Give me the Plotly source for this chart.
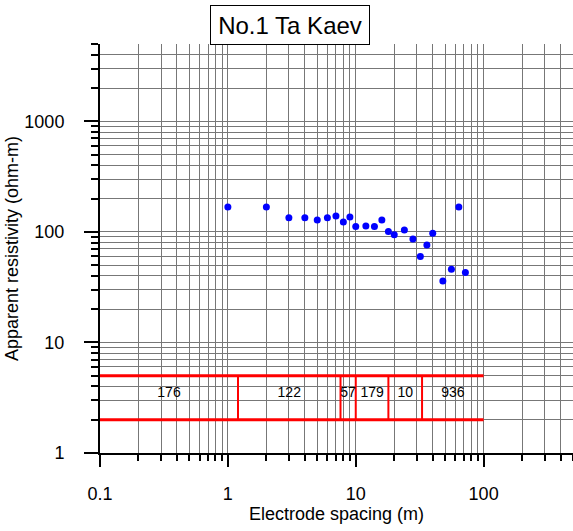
import math
import plotly.graph_objects as go

# ---- data ----
spacing = [1, 2, 3, 4, 5, 6, 7, 8, 9, 10, 12, 14, 16, 18, 20, 24, 28, 32, 36, 40, 48, 56, 64, 72]
app_res = [168, 168, 134, 134, 128, 134, 139, 123, 136, 112, 113, 112, 128, 101, 94, 104, 86, 60, 76, 97, 36, 46, 168, 43]

layer_edges = [0.1, 1.2, 7.6, 10, 18, 33, 100]   # layer boundaries along the spacing axis
layer_res = ["176", "122", "57", "179", "10", "936"]
box_bottom, box_top = 2, 5
label_y = 3.45

x_major = [0.1, 1, 10, 100]
y_major = [1, 10, 100, 1000]
x_minor = [m * 10 ** e for e in range(-1, 3) for m in range(2, 10) if m * 10 ** e <= 500]
y_minor = [m * 10 ** e for e in range(0, 4) for m in range(2, 10) if m * 10 ** e <= 5000]

FONT = "Liberation Sans, Arial, sans-serif"
GRID = "#777777"
RED = "#ff0000"

fig = go.Figure()

# layer model box
for yv in (box_bottom, box_top):
    fig.add_trace(go.Scatter(x=[layer_edges[0], layer_edges[-1]], y=[yv, yv], mode="lines",
                             line=dict(color=RED, width=3), hoverinfo="skip"))
for xe in layer_edges[1:-1]:
    fig.add_trace(go.Scatter(x=[xe, xe], y=[box_bottom, box_top], mode="lines",
                             line=dict(color=RED, width=2), hoverinfo="skip"))
mids = [math.sqrt(a * b) for a, b in zip(layer_edges[:-1], layer_edges[1:])]
fig.add_trace(go.Scatter(x=mids, y=[label_y] * len(mids), mode="text", text=layer_res,
                         textfont=dict(family=FONT, size=14, color="#000000"), hoverinfo="skip"))

# measured points
fig.add_trace(go.Scatter(x=spacing, y=app_res, mode="markers",
                         marker=dict(color="#0000ff", size=7), hoverinfo="skip"))

fig.update_layout(
    width=573, height=531,
    margin=dict(l=100, r=0, t=44, b=78),
    paper_bgcolor="white", plot_bgcolor="white",
    showlegend=False,
    font=dict(family=FONT, size=18, color="#000000"),
)
fig.update_xaxes(
    type="log", range=[-1, math.log10(500)], automargin=False,
    tickmode="array", tickvals=x_major, ticktext=["0.1", "1", "10", "100"],
    ticks="outside", ticklen=12, tickwidth=2, tickcolor="black",
    showline=True, linecolor="black", linewidth=2,
    showgrid=True, gridcolor=GRID, gridwidth=1,
    minor=dict(tickmode="array", tickvals=x_minor, ticks="outside", ticklen=6, tickwidth=1.5,
               tickcolor="black", showgrid=True, gridcolor=GRID, gridwidth=1),
    ticklabelstandoff=11,
    zeroline=False,
    title=dict(text="Electrode spacing (m)", font=dict(size=18), standoff=2),
)
fig.update_yaxes(
    type="log", range=[0, math.log10(5000)], automargin=False,
    tickmode="array", tickvals=y_major, ticktext=["1", "10", "100", "1000"],
    ticks="outside", ticklen=14, tickwidth=2, tickcolor="black",
    showline=True, linecolor="black", linewidth=2,
    showgrid=True, gridcolor=GRID, gridwidth=1,
    minor=dict(tickmode="array", tickvals=y_minor, ticks="outside", ticklen=7, tickwidth=1.5,
               tickcolor="black", showgrid=True, gridcolor=GRID, gridwidth=1),
    ticklabelstandoff=16,
    zeroline=False,
    title=dict(text="Apparent resistivity (ohm-m)", font=dict(size=18), standoff=1),
)

fig.add_annotation(
    text="No.1 Ta Kaev", xref="paper", yref="paper", x=0.4027, y=1.0465,
    xanchor="center", yanchor="middle", showarrow=False,
    font=dict(family=FONT, size=24, color="black"),
    bordercolor="black", borderwidth=1, borderpad=0, bgcolor="white",
    width=158, height=38,
)

fig.write_html("out.html", config={"displayModeBar": False},
               post_script="document.body.style.margin='0px';")
